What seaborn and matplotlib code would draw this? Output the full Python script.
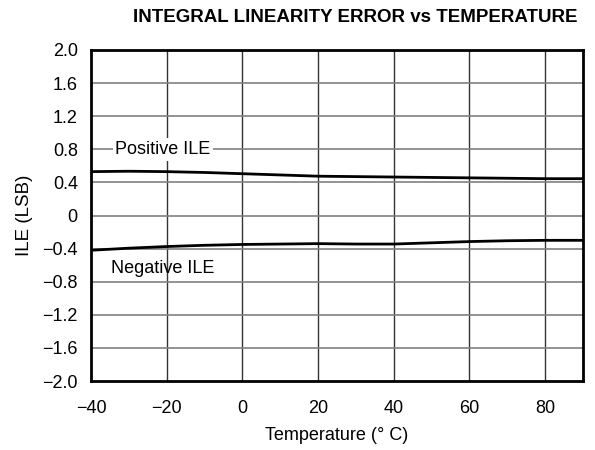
import matplotlib
matplotlib.use("Agg")
import matplotlib.pyplot as plt
import seaborn as sns
import pandas as pd

temps = [-40, -30, -20, -10, 0, 10, 20, 30, 40, 50, 60, 70, 80, 90]
positive_ile = [0.53, 0.535, 0.53, 0.52, 0.505, 0.49, 0.475, 0.47, 0.465, 0.46, 0.455, 0.45, 0.445, 0.445]
negative_ile = [-0.42, -0.395, -0.375, -0.36, -0.35, -0.345, -0.34, -0.345, -0.345, -0.33, -0.315, -0.305, -0.30, -0.30]
x_ticks = [-40, -20, 0, 20, 40, 60, 80]
x_tick_labels = ["\u221240", "\u221220", "0", "20", "40", "60", "80"]
y_ticks = [-2.0, -1.6, -1.2, -0.8, -0.4, 0, 0.4, 0.8, 1.2, 1.6, 2.0]
y_tick_labels = ["\u22122.0", "\u22121.6", "\u22121.2", "\u22120.8", "\u22120.4", "0", "0.4", "0.8", "1.2", "1.6", "2.0"]

sns.set_theme(style="white")
plt.rcParams['font.family'] = ['Liberation Sans', 'DejaVu Sans']
plt.rcParams['text.color'] = 'black'
plt.rcParams['axes.labelcolor'] = 'black'

df = pd.DataFrame({"T": temps * 2,
                   "ILE": positive_ile + negative_ile,
                   "series": ["Positive ILE"] * len(temps) + ["Negative ILE"] * len(temps)})

fig = plt.figure(figsize=(5.95, 4.5), dpi=100)
ax = fig.add_axes([91/595, 1 - 381/450, (583-91)/595, (381-50)/450])

for v in x_ticks[1:]:
    ax.axvline(v, color="#333333", lw=1.0, zorder=1)
for v in y_ticks[1:-1]:
    ax.axhline(v, color="#808080", lw=1.2, zorder=1)

sns.lineplot(data=df, x="T", y="ILE", units="series", estimator=None,
             color="black", lw=2.0, ax=ax, zorder=3, legend=False)

ax.set_xlim(-40, 90)
ax.set_ylim(-2.0, 2.0)
ax.set_xticks(x_ticks)
ax.set_xticklabels(x_tick_labels)
ax.set_yticks(y_ticks)
ax.set_yticklabels(y_tick_labels)
ax.tick_params(axis="both", length=0, labelsize=13, colors="black", labelcolor="black")
ax.tick_params(axis="x", pad=14)
ax.tick_params(axis="y", pad=9.5)
for s in ax.spines.values():
    s.set_color("black")
    s.set_linewidth(2.0)

ax.set_xlabel("Temperature (\u00b0 C)", fontsize=13, labelpad=7, color="black")
ax.set_ylabel("ILE (LSB)", fontsize=13.5, labelpad=7, color="black")

ax.text(-21, 0.8, "Positive ILE", fontsize=13, ha="center", va="center", zorder=4,
        color="black", bbox=dict(facecolor="white", edgecolor="none", pad=2))
ax.text(-21, -0.64, "Negative ILE", fontsize=13, ha="center", va="center", zorder=4,
        color="black")

fig.text(355/595, 1 - 17/450, "INTEGRAL LINEARITY ERROR vs TEMPERATURE",
         fontsize=13.5, fontweight="bold", ha="center", va="center", color="black")

fig.savefig("out.png", dpi=100)
